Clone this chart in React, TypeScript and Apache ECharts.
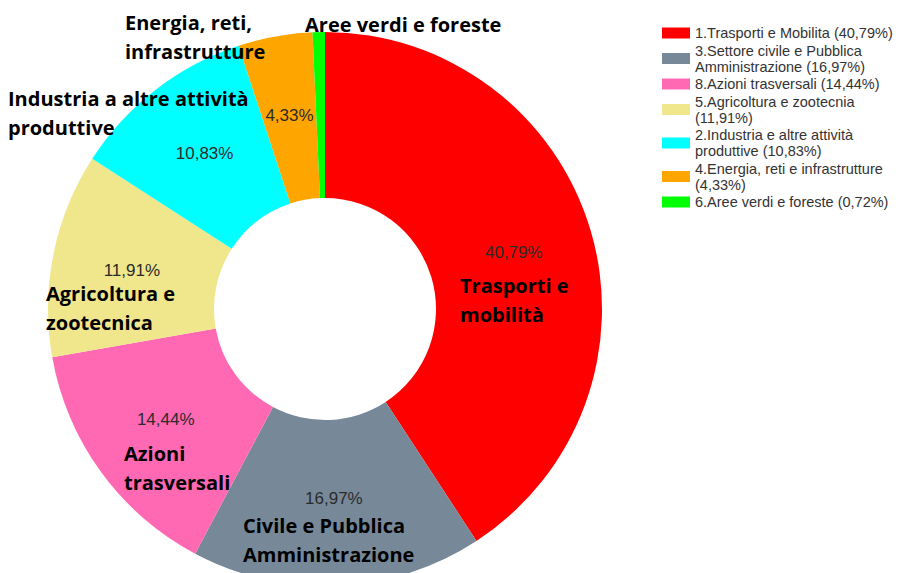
import React, { useEffect, useRef } from 'react';
import * as echarts from 'echarts';

const categories = [
  'Trasporti e mobilità',
  'Civile e Pubblica Amministrazione',
  'Azioni trasversali',
  'Agricoltura e zootecnica',
  'Industria a altre attività produttive',
  'Energia, reti, infrastrutture',
  'Aree verdi e foreste',
];
const values = [40.79, 16.97, 14.44, 11.91, 10.83, 4.33, 0.72];
const colors = ['#FF0000', '#778899', '#FF69B4', '#F0E68C', '#00FFFF', '#FFA500', '#00FF00'];
const legendLabels = [
  '1.Trasporti e Mobilita (40,79%)',
  '3.Settore civile e Pubblica\nAmministrazione (16,97%)',
  '8.Azioni trasversali (14,44%)',
  '5.Agricoltura e zootecnia\n(11,91%)',
  '2.Industria e altre attività\nproduttive (10,83%)',
  '4.Energia, reti e infrastrutture\n(4,33%)',
  '6.Aree verdi e foreste (0,72%)',
];
const nameLines = [
  ['Trasporti e', 'mobilità'],
  ['Civile e Pubblica', 'Amministrazione'],
  ['Azioni', 'trasversali'],
  ['Agricoltura e', 'zootecnica'],
  ['Industria a altre attività', 'produttive'],
  ['Energia, reti,', 'infrastrutture'],
  ['Aree verdi e foreste'],
];
// layout of the overlaid category captions: [left x, first-line centre y]
const namePos = [
  [460, 285],
  [243, 525],
  [124, 453],
  [46, 293],
  [8, 98],
  [125, 22],
  [305, 24],
];
// small nudges of the percentage labels (the original donut is slightly squashed)
const labelNudge = [0, -7, -5, 0, 0, 0, 0];

export default function App() {
  const ref = useRef<HTMLDivElement>(null);
  useEffect(() => {
    document.body.style.margin = '0';
    const chart = echarts.init(ref.current!, null, { renderer: 'svg' });
    const lh = 29;
    chart.setOption({
      animation: false,
      backgroundColor: '#ffffff',
      color: colors,
      legend: {
        orient: 'vertical',
        left: 662,
        top: 25,
        padding: 0,
        icon: 'rect',
        itemWidth: 28,
        itemHeight: 11,
        itemGap: 1.5,
        selectedMode: false,
        data: categories,
        formatter: (name: string) => legendLabels[categories.indexOf(name)],
        textStyle: {
          fontFamily: 'Liberation Sans, Arial, sans-serif',
          fontSize: 14.5,
          color: '#333333',
          lineHeight: 16,
          padding: [0, 0, 0, 0],
        },
      },
      series: [
        {
          type: 'pie',
          center: [325, 309],
          radius: [111, 277],
          startAngle: 90,
          clockwise: true,
          avoidLabelOverlap: false,
          itemStyle: { borderWidth: 0 },
          emphasis: { disabled: true },
          label: {
            show: true,
            position: 'inside',
            fontFamily: 'Liberation Sans, Arial, sans-serif',
            fontSize: 17,
            color: '#2b2b2b',
            formatter: (p: any) => p.value.toFixed(2).replace('.', ',') + '%',
          },
          labelLine: { show: false },
          data: categories.map((c, i) => ({
            name: c,
            value: values[i],
            label: values[i] < 1 ? { show: false } : { offset: [0, labelNudge[i]] },
          })),
        },
      ],
      graphic: nameLines.map((lines, i) => ({
        type: 'text',
        x: namePos[i][0],
        y: namePos[i][1] - lh / 2,
        z: 100,
        style: {
          text: lines.join('\n'),
          font: 'bold 20px "Open Sans", "Noto Sans", sans-serif',
          fill: '#000000',
          lineHeight: lh,
          verticalAlign: 'top',
          align: 'left',
        },
      })),
    });
    return () => chart.dispose();
  }, []);
  return <div ref={ref} style={{ width: 900, height: 573 }} />;
}
